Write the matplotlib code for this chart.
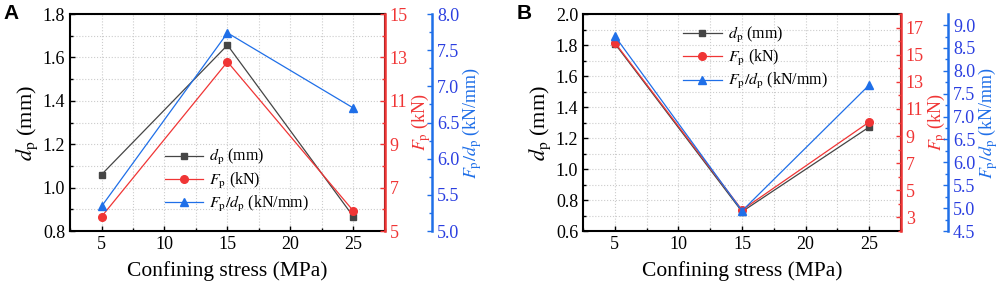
"""Two-panel triple-axis chart: penetration depth / force vs confining stress."""
import matplotlib
matplotlib.use("Agg")
import matplotlib.pyplot as plt
from matplotlib.ticker import MultipleLocator, FormatStrFormatter

plt.rcParams['font.family'] = ['Liberation Serif', 'DejaVu Serif']
plt.rcParams['mathtext.fontset'] = 'stix'

# data
stress = [5, 15, 25]

dp_a = [1.06, 1.657, 0.866]
fp_a = [5.66, 12.8, 5.92]
ratio_a = [5.34, 7.74, 6.70]

dp_b = [1.81, 0.725, 1.271]
fp_b = [15.9, 3.55, 10.04]
ratio_b = [8.76, 4.94, 7.69]

BLACK = '#454545'
RED = '#f03535'
BLUE = '#1f6fe8'
BLUE_TXT = '#2a3ee0'


def style_spine_ticks(ax, color):
    ax.tick_params(axis='y', which='both', direction='in', colors=color,
                   labelcolor=color, width=1.0)
    ax.tick_params(axis='y', which='major', length=3.5, labelsize=13)
    ax.tick_params(axis='y', which='minor', length=2)


def draw_panel(fig, rect, dp, fp, ratio, ylim, flim, rlim, letter, legend_loc):
    ax = fig.add_axes(rect)
    ax.plot(stress, dp, color=BLACK, marker='s', ms=4.8, lw=0.9, label=r'$d_\mathrm{p}$ (mm)')
    ax.set_xlim(2.5, 27.5)
    ax.set_ylim(*ylim)
    ax.xaxis.set_major_locator(MultipleLocator(5))
    ax.xaxis.set_minor_locator(MultipleLocator(2.5))
    ax.yaxis.set_major_locator(MultipleLocator(0.2))
    ax.yaxis.set_minor_locator(MultipleLocator(0.1))
    ax.yaxis.set_major_formatter(FormatStrFormatter('%.1f'))
    ax.grid(which='both', color='#cccccc', linestyle=':', linewidth=0.8)
    ax.tick_params(which='both', direction='in', top=False, right=False, width=1.0)
    ax.tick_params(which='major', length=3.5, labelsize=13)
    ax.tick_params(which='minor', length=2)
    for s in ax.spines.values():
        s.set_linewidth(1.5)
    ax.set_xlabel('Confining stress (MPa)', fontsize=15.5, labelpad=6)
    ax.set_ylabel(r'$d_\mathrm{p}$ (mm)', fontsize=16, labelpad=2)

    ax2 = ax.twinx()
    ax2.plot(stress, fp, color=RED, marker='o', ms=5.5, lw=0.9, label=r'$F_\mathrm{p}$ (kN)')
    ax2.set_ylim(*flim)
    ax2.yaxis.set_major_locator(MultipleLocator(2, offset=1))
    ax2.yaxis.set_minor_locator(MultipleLocator(1))
    ax2.spines['right'].set_color(RED)
    ax2.spines['right'].set_linewidth(1.8)
    style_spine_ticks(ax2, RED)
    ax2.set_ylabel(r'$F_\mathrm{p}$ (kN)', color=RED, fontsize=13, labelpad=1)

    ax3 = ax.twinx()
    ax3.spines['right'].set_position(('outward', 34))
    ax3.plot(stress, ratio, color=BLUE, marker='^', ms=5.5, lw=0.9,
             label=r'$F_\mathrm{p}/d_\mathrm{p}$ (kN/mm)')
    ax3.set_ylim(*rlim)
    ax3.yaxis.set_major_locator(MultipleLocator(0.5))
    ax3.yaxis.set_minor_locator(MultipleLocator(0.25))
    ax3.yaxis.set_major_formatter(FormatStrFormatter('%.1f'))
    ax3.spines['right'].set_color(BLUE)
    ax3.spines['right'].set_linewidth(1.8)
    style_spine_ticks(ax3, BLUE)
    ax3.tick_params(axis='y', labelcolor=BLUE_TXT)
    ax3.set_ylabel(r'$F_\mathrm{p}/d_\mathrm{p}$ (kN/mm)', color=BLUE, fontsize=13, labelpad=1)
    for a in (ax2, ax3):
        a.spines['top'].set_visible(False)
        a.spines['left'].set_visible(False)
        a.spines['bottom'].set_visible(False)

    handles = []
    labels = []
    for a in (ax, ax2, ax3):
        h, l = a.get_legend_handles_labels()
        handles += h
        labels += l
    ax3.legend(handles, labels, loc='upper left', bbox_to_anchor=legend_loc,
               frameon=False, fontsize=11.5, handlelength=2.4, handletextpad=0.4,
               labelspacing=0.2, borderaxespad=0)

    fig.text(rect[0] - 0.066, 0.985, letter, fontsize=15, fontweight='bold',
             family='Liberation Sans', va='top', ha='left')
    return ax


fig = plt.figure(figsize=(10.03, 2.9), dpi=100)

draw_panel(fig, [0.0698, 0.2034, 0.314, 0.748], dp_a, fp_a, ratio_a,
           (0.8, 1.8), (5, 15), (5.0, 8.0), 'A', (0.28, 0.415))
draw_panel(fig, [0.5813, 0.2034, 0.317, 0.748], dp_b, fp_b, ratio_b,
           (0.6, 2.0), (2, 18), (4.5, 9.24), 'B', (0.295, 0.98))

fig.savefig('out.png', dpi=100)
